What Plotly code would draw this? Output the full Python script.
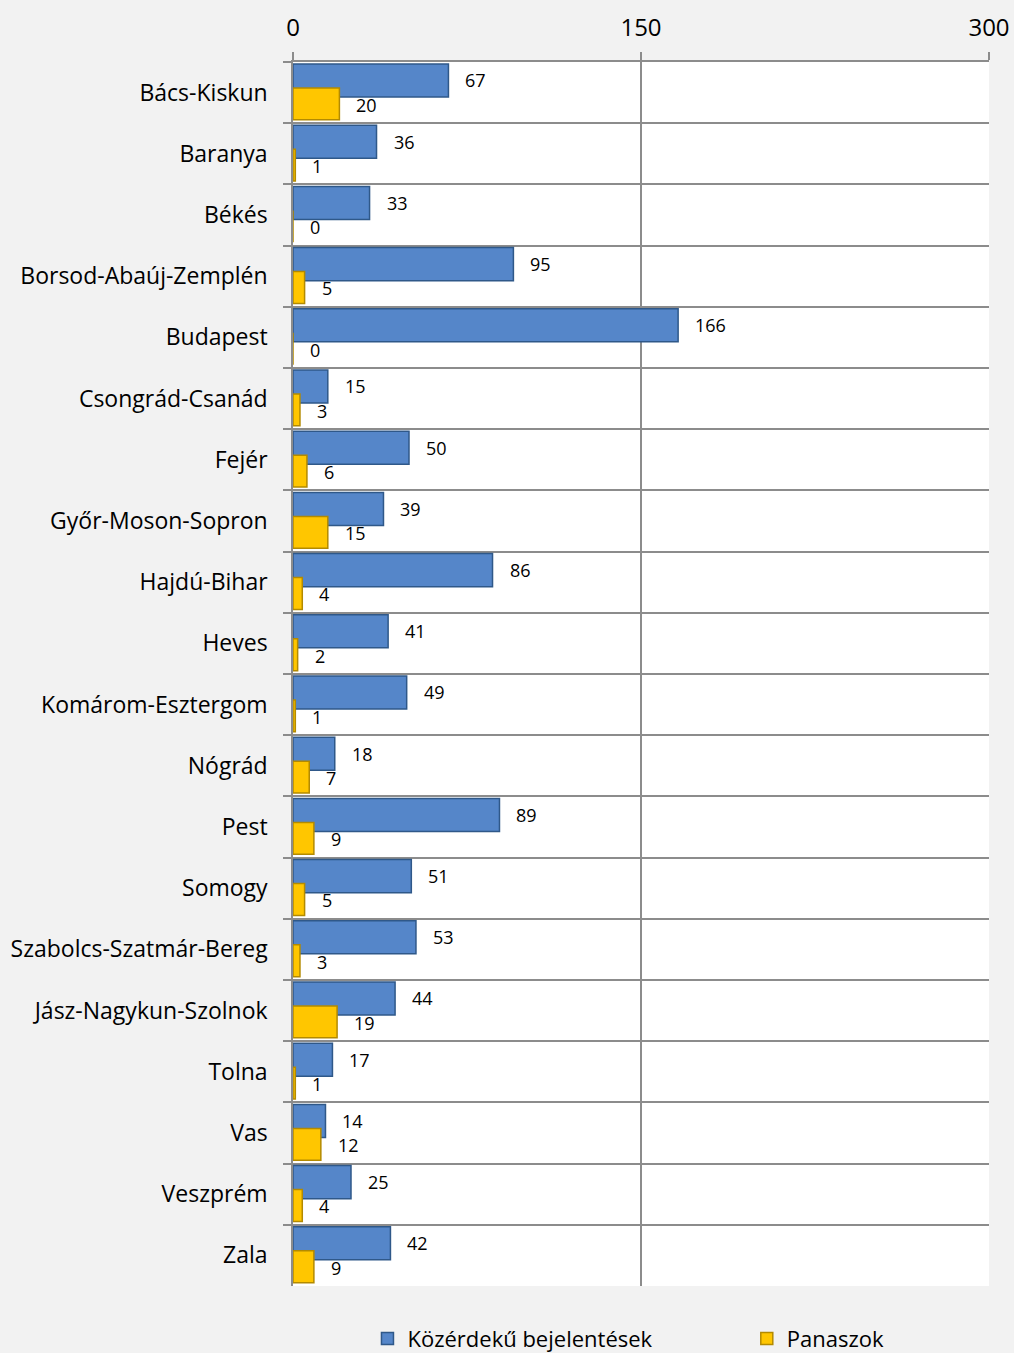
import plotly.graph_objects as go

categories = ["Bács-Kiskun", "Baranya", "Békés", "Borsod-Abaúj-Zemplén", "Budapest",
              "Csongrád-Csanád", "Fejér", "Győr-Moson-Sopron", "Hajdú-Bihar", "Heves",
              "Komárom-Esztergom", "Nógrád", "Pest", "Somogy", "Szabolcs-Szatmár-Bereg",
              "Jász-Nagykun-Szolnok", "Tolna", "Vas", "Veszprém", "Zala"]
kozerdeku = [67, 36, 33, 95, 166, 15, 50, 39, 86, 41, 49, 18, 89, 51, 53, 44, 17, 14, 25, 42]
panaszok = [20, 1, 0, 5, 0, 3, 6, 15, 4, 2, 1, 7, 9, 5, 3, 19, 1, 12, 4, 9]
x_ticks = [0, 150, 300]

FONT = "Open Sans"
GRID = "#8c8c8c"

fig = go.Figure()
fig.add_trace(go.Bar(
    name="Közérdekű bejelentések", y=categories, x=kozerdeku, orientation="h",
    width=0.54, offset=-0.467, legend="legend",
    marker=dict(color="#5586c9", line=dict(color="#2f5889", width=1.5)),
))
fig.add_trace(go.Bar(
    name="Panaszok", y=categories, x=panaszok, orientation="h",
    width=0.52, offset=-0.075, legend="legend2",
    marker=dict(color="#ffc600", line=dict(color="#b38a00", width=1.5)),
))

annotations = []
for i, (a, b) in enumerate(zip(kozerdeku, panaszok)):
    annotations.append(dict(x=a, y=i - 0.2, xref="x", yref="y", text=str(a),
                            showarrow=False, xanchor="left", xshift=15,
                            font=dict(family=FONT, size=18, color="#000")))
    annotations.append(dict(x=b, y=i + 0.2, xref="x", yref="y", text=str(b),
                            showarrow=False, xanchor="left", xshift=15,
                            font=dict(family=FONT, size=18, color="#000")))

legend_common = dict(orientation="h", y=-0.043, xanchor="left", yanchor="middle",
                     itemwidth=30, font=dict(family=FONT, size=22, color="#000"),
                     bgcolor="rgba(0,0,0,0)")

fig.update_layout(
    width=1014, height=1353,
    paper_bgcolor="#f2f2f2", plot_bgcolor="#ffffff",
    margin=dict(l=293, r=25, t=62, b=67, autoexpand=False),
    barmode="overlay",
    font=dict(family=FONT, size=22, color="#000"),
    annotations=annotations,
    showlegend=True,
    legend=dict(x=0.107, **legend_common),
    legend2=dict(x=0.652, **legend_common),
    xaxis=dict(side="top", range=[0, 300], tickvals=x_ticks, showgrid=True,
               gridcolor=GRID, gridwidth=1.5, zeroline=False,
               showline=True, linecolor=GRID, linewidth=1.5,
               ticks="outside", ticklen=8, tickcolor=GRID, tickwidth=1.5,
               ticklabelstandoff=7, tickfont=dict(family=FONT, size=24)),
    yaxis=dict(type="category", categoryorder="array", categoryarray=categories,
               autorange="reversed", tickson="boundaries", showgrid=True,
               gridcolor=GRID, gridwidth=1.5, showline=True, linecolor=GRID, linewidth=1.5,
               ticks="outside", ticklen=8, tickcolor=GRID, tickwidth=1.5,
               ticklabelstandoff=19, tickfont=dict(family=FONT, size=23)),
)

fig.write_html("out.html", config={"displayModeBar": False},
               post_script="document.body.style.margin='0';document.body.style.background='#f2f2f2';")
